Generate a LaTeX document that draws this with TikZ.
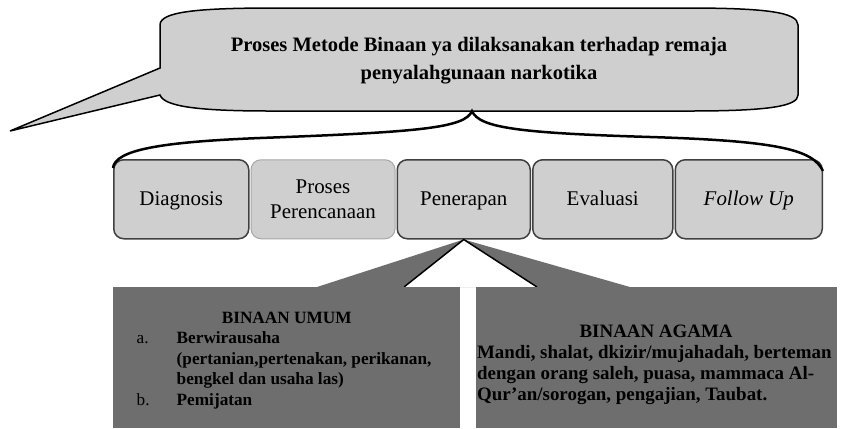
\documentclass[tikz,border=0pt]{standalone}
\usepackage{fontspec}
\setmainfont{Liberation Serif}
\usepackage{xcolor}
\usetikzlibrary{positioning}

\definecolor{abuMuda}{HTML}{CFCFCF}
\definecolor{abuTua}{HTML}{6E6E6E}

\begin{document}
\begin{tikzpicture}[x=1bp, y=-1bp, node distance=1bp,
    tahap/.style={rectangle, rounded corners=10bp, draw=black!75, line width=1.5bp, fill=abuMuda, minimum height=79bp, inner sep=2bp, align=center, font=\fontsize{21}{25}\selectfont},
    satuBaris/.style={text height=16bp, text depth=3bp},
    binaan/.style={rectangle, fill=abuTua, minimum height=141bp, inner sep=0pt}]
    \useasboundingbox (0,0) rectangle (842,428);

    \filldraw [fill=abuMuda, line width=1.5bp, line join=miter]
        (160,68) -- (10,131) -- (160,95)
        .. controls (164,106) and (195,111) .. (270,111) -- (690,111)
        .. controls (770,111) and (798,106) .. (798,95) -- (798,25)
        .. controls (798,12) and (765,8) .. (685,8) -- (275,8)
        .. controls (195,8) and (160,12) .. (160,25) -- cycle;
    \node (judul) [align=center, font=\fontsize{20.6}{28}\selectfont\bfseries] at (479,61) {Proses Metode Binaan ya dilaksanakan terhadap remaja\\penyalahgunaan narkotika};
    \coordinate (ujung) at (472,111);

    \node (diagnosis) [tahap, satuBaris, minimum width=135bp, anchor=north west] at (113,159) {Diagnosis};
    \node (proses) [tahap, minimum width=144bp, right=of diagnosis, draw=black!35, line width=1bp] {Proses\\Perencanaan};
    \node (penerapan) [tahap, satuBaris, minimum width=133bp, right=of proses] {Penerapan};
    \node (evaluasi) [tahap, satuBaris, minimum width=140bp, right=of penerapan] {Evaluasi};
    \node (followUp) [tahap, satuBaris, minimum width=147bp, right=of evaluasi] {\itshape Follow Up};

    \draw [line width=2.5bp] ([yshift=-9bp]diagnosis.north west)
        .. controls (115,150) and (160,142) .. (260,138)
        .. controls (420,132) and (465,128) .. (ujung)
        .. controls (479,128) and (520,133) .. (650,137)
        .. controls (780,141) and (813,150) .. ([yshift=-12bp]followUp.north east);

    \coordinate (kiri) at (404,287);
    \coordinate (kanan) at (537,287);
    \fill [abuTua] (penerapan.south) -- (317,287) -- (630,287) -- cycle;
    \fill [white] (penerapan.south) -- (kiri) -- (kanan) -- cycle;
    \draw [line width=1.5bp] (kiri) -- (penerapan.south) -- (kanan);

    \node (binaanUmum) [binaan, minimum width=347bp, anchor=north west] at (113,287) {%
        \begin{minipage}{300bp}\fontsize{17.3}{20.5}\selectfont\bfseries
        \vspace{8bp}
        \centering BINAAN UMUM\par
        \raggedright
        \begin{tabular}[t]{@{}p{40bp}@{}l@{}}
            \mdseries a. & Berwirausaha\\
             & (pertanian,pertenakan, perikanan,\\
             & bengkel dan usaha las)\\
            \mdseries b. & Pemijatan
        \end{tabular}
        \end{minipage}};
    \node (binaanAgama) [binaan, minimum width=361bp, right=15bp of binaanUmum] {%
        \begin{minipage}{358bp}\fontsize{19}{21}\selectfont\bfseries
        \vspace{14bp}
        \centering BINAAN AGAMA\par
        \raggedright
        Mandi, shalat, dkizir/mujahadah, berteman\\
        dengan orang saleh, puasa, mammaca Al-\\
        Qur’an/sorogan, pengajian, Taubat.
        \end{minipage}};
\end{tikzpicture}
\end{document}
